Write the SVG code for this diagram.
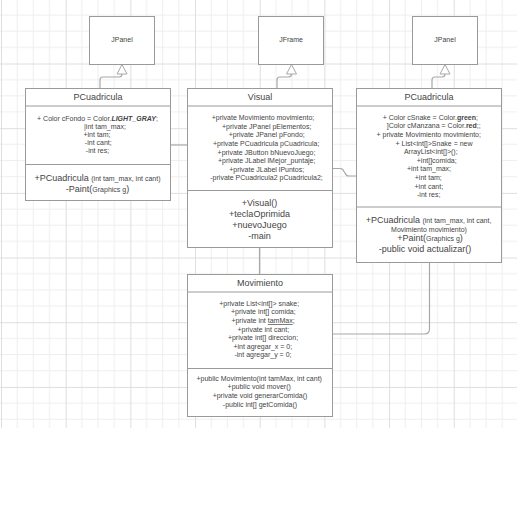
<svg xmlns="http://www.w3.org/2000/svg" width="517" height="531" viewBox="0 0 517 531">
  <defs>
    <pattern id="grid" x="1" y="-1.17" width="64.68" height="64.68" patternUnits="userSpaceOnUse">
      <path d="M16.17 0V64.68M32.34 0V64.68M48.51 0V64.68M0 16.17H64.68M0 32.34H64.68M0 48.51H64.68" stroke="#eeeeee" stroke-width="1" fill="none"/>
      <path d="M0.5 0V64.68M0 0.5H64.68" stroke="#dedede" stroke-width="1" fill="none"/>
    </pattern>
  </defs>
  <style>
    text { font-family: "Liberation Sans", Arial, sans-serif; fill: #444444; text-anchor: middle; }
    .box { fill: #ffffff; stroke: #9a9a9a; stroke-width: 1; }
    .sep { stroke: #9a9a9a; stroke-width: 1; fill: none; }
    .title { font-size: 9px; }
    .attr { font-size: 7px; }
    .meth { font-size: 9px; }
    .small { font-size: 7px; }
    .edge { fill: none; stroke: #a8a8a8; stroke-width: 1.2; }
    .tri { fill: #ffffff; stroke: #a8a8a8; stroke-width: 1; }
  </style>

  <!-- background grid -->
  <rect x="0" y="0" width="517" height="428" fill="url(#grid)"/>

  <!-- connectors -->
  <g id="connectors">
    <!-- PCuadricula (left) extends JPanel -->
    <path class="edge" d="M100 88.5V80Q100 77 103 77H119Q122 77 122 74"/>
    <path class="tri" d="M122 64.5L127 74H117Z"/>
    <!-- Visual extends JFrame -->
    <path class="edge" d="M277 88.5V80Q277 77 280 77H288.5Q291.5 77 291.5 74"/>
    <path class="tri" d="M291.5 64.5L296.5 74H286.5Z"/>
    <!-- PCuadricula (right) extends JPanel -->
    <path class="edge" d="M432 88.5V80Q432 77 435 77H442Q445 77 445 74"/>
    <path class="tri" d="M445 64.5L450 74H440Z"/>
    <!-- associations -->
    <path class="edge" d="M170 145H187"/>
    <path class="edge" d="M332 168.5H340Q343 168.5 344 171.5L345 173Q346 176 349 176H356"/>
    <path class="edge" d="M259.5 248V274"/>
    <path class="edge" d="M429.5 263V329Q429.5 334 424.5 334H332"/>
  </g>

  <!-- superclasses -->
  <g id="jpanel-left">
    <rect class="box" x="89.5" y="16.5" width="65" height="48"/>
    <text class="attr" x="122" y="42">JPanel</text>
  </g>
  <g id="jframe">
    <rect class="box" x="258.5" y="16.5" width="65" height="48"/>
    <text class="attr" x="291" y="42">JFrame</text>
  </g>
  <g id="jpanel-right">
    <rect class="box" x="412.5" y="16.5" width="65" height="48"/>
    <text class="attr" x="445" y="42">JPanel</text>
  </g>

  <!-- PCuadricula (left) -->
  <g id="pcuadricula-left">
    <rect class="box" x="25.5" y="88.5" width="145" height="112"/>
    <path class="sep" d="M25.5 106H170.5M25.5 164.5H170.5"/>
    <text class="title" x="98" y="99.5">PCuadricula</text>
    <text class="attr" x="97.5" y="120.8">+ Color cFondo = Color.<tspan font-weight="bold" font-style="italic">LIGHT_GRAY</tspan>;</text>
    <text class="attr" x="105" y="128.9">|int tam_max;</text>
    <text class="attr" x="97" y="136.6">+int tam;</text>
    <text class="attr" x="98.3" y="144.8">-int cant;</text>
    <text class="attr" x="97.5" y="153.1">-int res;</text>
    <text class="meth" x="97.5" y="180.5">+PCuadricula <tspan class="small">(int tam_max, int cant)</tspan></text>
    <text class="meth" x="97.5" y="191.5">-Paint(<tspan class="small">Graphics g</tspan>)</text>
  </g>

  <!-- Visual -->
  <g id="visual">
    <rect class="box" x="187.5" y="88.5" width="145" height="159"/>
    <path class="sep" d="M187.5 106H332.5M187.5 190.5H332.5"/>
    <text class="title" x="260" y="99.5">Visual</text>
    <text class="attr" x="263" y="120.2">+private Movimiento movimiento;</text>
    <text class="attr" x="266.7" y="128.8">+private JPanel pElementos;</text>
    <text class="attr" x="266.7" y="137.3">+private JPanel pFondo;</text>
    <text class="attr" x="266.2" y="145.9">+private PCuadricula pCuadricula;</text>
    <text class="attr" x="266.5" y="154.5">+private JButton bNuevoJuego;</text>
    <text class="attr" x="266.7" y="163">+private JLabel lMejor_puntaje;</text>
    <text class="attr" x="266.7" y="171.6">+private JLabel lPuntos;</text>
    <text class="attr" x="266.5" y="180.2">-private PCuadricula2 pCuadricula2;</text>
    <text class="meth" x="259.5" y="205.9">+Visual()</text>
    <text class="meth" x="259.5" y="216.9">+teclaOprimida</text>
    <text class="meth" x="259.5" y="227.9">+nuevoJuego</text>
    <text class="meth" x="259.5" y="238.5">-main</text>
  </g>

  <!-- PCuadricula (right) -->
  <g id="pcuadricula-right">
    <rect class="box" x="356.5" y="88.5" width="145" height="174"/>
    <path class="sep" d="M356.5 106H501.5M356.5 207H501.5"/>
    <text class="title" x="429" y="99.5">PCuadricula</text>
    <text class="attr" x="430.3" y="119.8">+ Color cSnake = Color.<tspan font-weight="bold">green</tspan>;</text>
    <text class="attr" x="433.7" y="128.4">]Color cManzana = Color.<tspan font-weight="bold">red</tspan>;;</text>
    <text class="attr" x="428.7" y="137">+ private Movimiento movimiento;</text>
    <text class="attr" x="434" y="145.6">+ List&lt;int[]&gt;Snake = new</text>
    <text class="attr" x="430.8" y="154.2">ArrayList&lt;int[]&gt;();</text>
    <text class="attr" x="436.7" y="162.8">+int[]comida;</text>
    <text class="attr" x="429" y="171.4">+int tam_max;</text>
    <text class="attr" x="428.3" y="180">+int tam;</text>
    <text class="attr" x="428.8" y="188.6">+int cant;</text>
    <text class="attr" x="428.7" y="197.2">-int res;</text>
    <text class="meth" x="428.5" y="223.2">+PCuadricula <tspan class="small">(int tam_max, int cant,</tspan></text>
    <text class="small" x="429" y="231.8">Movimiento movimiento)</text>
    <text class="meth" x="430" y="241.2">+Paint(<tspan class="small">Graphics g</tspan>)</text>
    <text class="meth" x="425" y="251.5">-public void actualizar()</text>
  </g>

  <!-- Movimiento -->
  <g id="movimiento">
    <rect class="box" x="187.5" y="274.5" width="145" height="142"/>
    <path class="sep" d="M187.5 292H332.5M187.5 368.5H332.5"/>
    <text class="title" x="260" y="285.9">Movimiento</text>
    <text class="attr" x="259.2" y="305.8">+private List&lt;int[]&gt; snake;</text>
    <text class="attr" x="263.3" y="314.4">+private int[] comida;</text>
    <text class="attr" x="263" y="323">+private int <tspan text-decoration="underline">tamMax</tspan>;</text>
    <text class="attr" x="263.3" y="331.6">+private int cant;</text>
    <text class="attr" x="263" y="340.2">+private int[] direccion;</text>
    <text class="attr" x="262.8" y="348.8">+int agregar_x = 0;</text>
    <text class="attr" x="263" y="357.4">-int agregar_y = 0;</text>
    <text class="attr" x="259.2" y="380.8">+public Movimiento(int tamMax, int cant)</text>
    <text class="attr" x="259.2" y="389.2">+public void mover()</text>
    <text class="attr" x="260" y="397.8">+private void generarComida()</text>
    <text class="attr" x="260" y="406.5">-public int[] getComida()</text>
  </g>
</svg>
